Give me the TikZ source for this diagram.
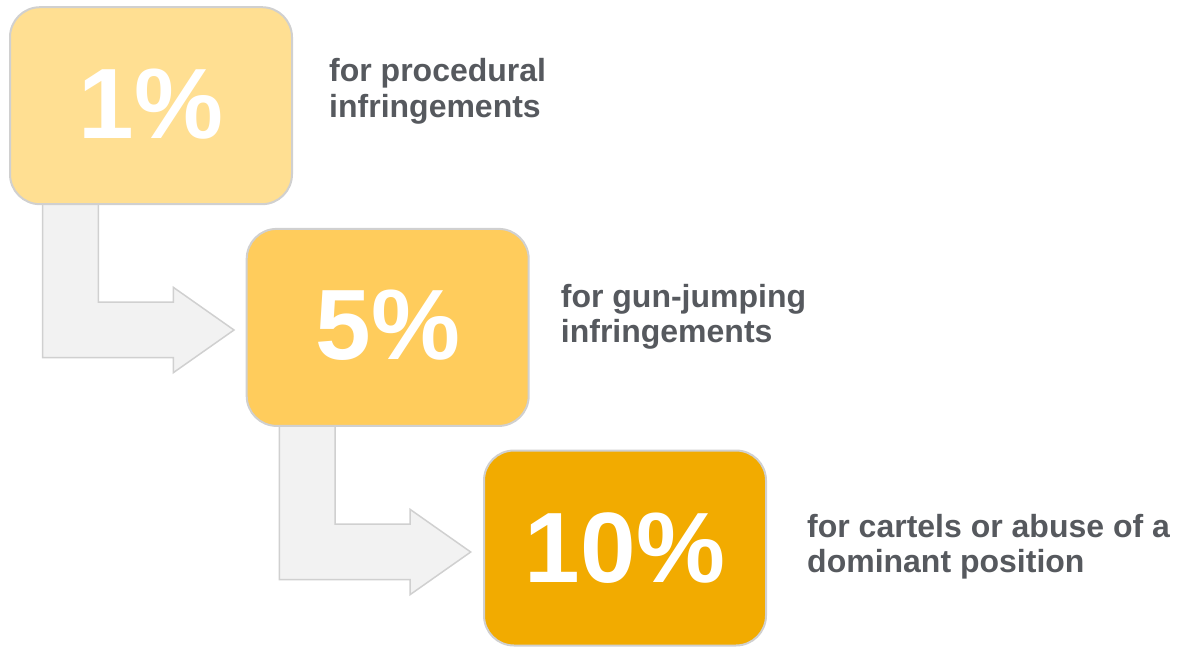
\documentclass[tikz,border=0pt]{standalone}
\usepackage{fontspec}
\setmainfont{Liberation Sans}
\definecolor{boxA}{HTML}{FFDF92}
\definecolor{boxB}{HTML}{FFCC5C}
\definecolor{boxC}{HTML}{F2AB00}
\definecolor{edgegray}{HTML}{D0D0D0}
\definecolor{arrowfill}{HTML}{F2F2F2}
\definecolor{labelgray}{HTML}{56595E}
\begin{document}
\begin{tikzpicture}[x=1pt,y=-1pt,
  pctbox/.style={draw=edgegray, line width=2pt, rounded corners=30pt,
    minimum width=282pt, minimum height=197pt, inner sep=0pt},
  pcttext/.style={text=white, font=\fontsize{100}{100}\selectfont\bfseries, inner sep=0pt, anchor=base},
  bentarrow/.style={fill=arrowfill, draw=edgegray, line width=1.5pt, line join=miter},
  lbl/.style={text=labelgray, font=\fontsize{32}{35.5}\selectfont\bfseries, align=left, anchor=base west, inner sep=0pt}]
\useasboundingbox (0,0) rectangle (1184,646);
% bent arrows (drawn under the boxes)
\draw[bentarrow] (42.7,195) -- (98.3,195) -- (98.3,302) -- (173.3,302) -- (173.3,287.3)
  -- (234,330) -- (173.3,372.7) -- (173.3,357.7) -- (42.7,357.7) -- cycle;
\draw[bentarrow] (279.4,417) -- (335,417) -- (335,524) -- (410,524) -- (410,509.3)
  -- (470.7,552) -- (410,594.7) -- (410,579.7) -- (279.4,579.7) -- cycle;
% boxes
\node[pctbox, fill=boxA] (b1) at (151,105.7) {};
\node[pctbox, fill=boxB] (b2) at (387.7,327.4) {};
\node[pctbox, fill=boxC, minimum height=195pt] (b3) at (625,548) {};
% percentages
\node[pcttext] (p1) at (151,138) {1\%};
\node[pcttext] (p2) at (388,359) {5\%};
\node[pcttext] (p3) at (625,582) {10\%};
% labels (anchor is the baseline of the last line)
\node[lbl] (l1) at (329,117.2) {for procedural\\infringements};
\node[lbl] (l2) at (560.7,342.5) {for gun-jumping\\infringements};
\node[lbl] (l3) at (807,572.5) {for cartels or abuse of a\\dominant position};
\end{tikzpicture}
\end{document}
